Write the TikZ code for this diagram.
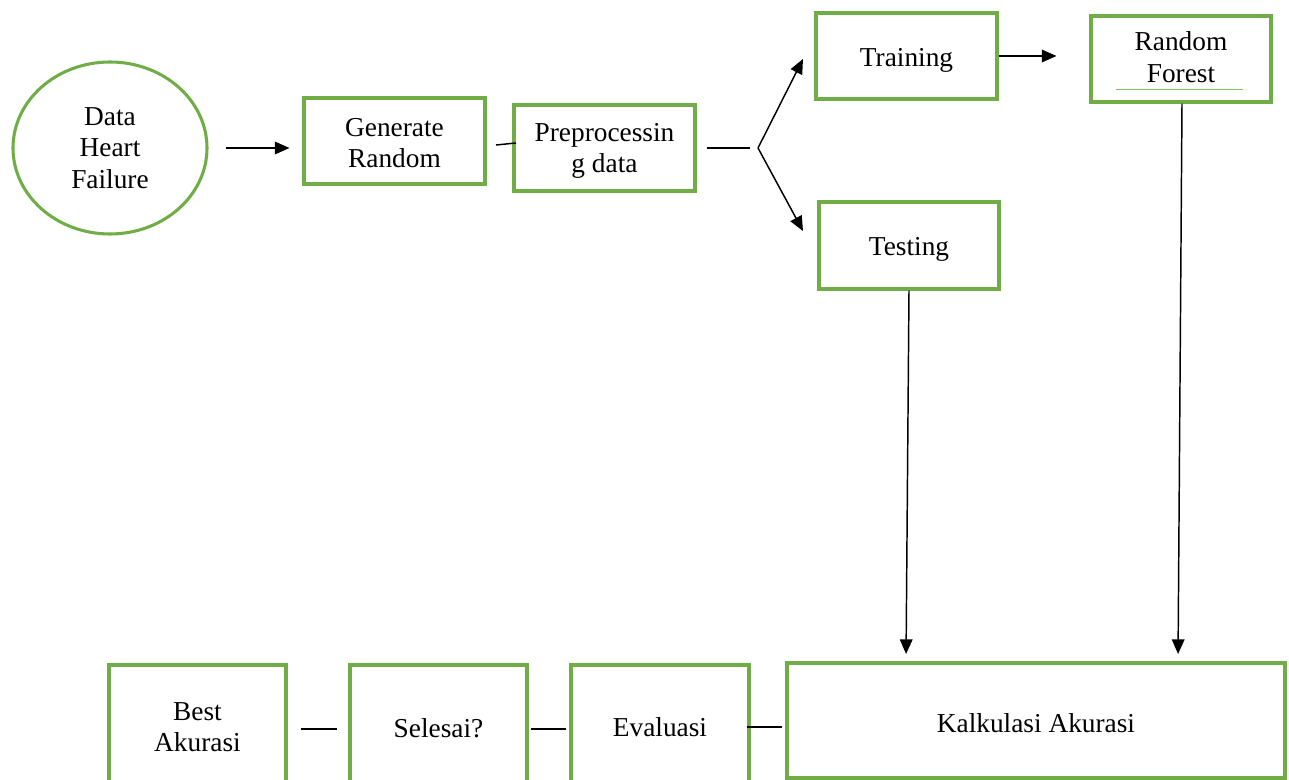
\documentclass[tikz,border=0pt]{standalone}
\usepackage{fontspec}
\setmainfont{Liberation Serif}
\usetikzlibrary{shapes.geometric,arrows.meta}
\definecolor{boxgreen}{RGB}{112,173,71}
\definecolor{lightgreen}{RGB}{130,195,95}
\newcommand\pxu{0.75pt}
\newdimen\pxd \pxd=0.75pt
\newcommand\dn[2]{\raisebox{-#1\pxd}[\height][\depth]{#2}}
\begin{document}
\begin{tikzpicture}[x=0.75pt,y=-0.75pt,
  every node/.style={font=\fontsize{20.5}{23.5}\selectfont, align=center, inner sep=0pt},
  gbox/.style={draw=boxgreen, line width=2.3pt, rectangle},
  gell/.style={draw=boxgreen, line width=2.3pt, ellipse},
  conn/.style={draw=black, line width=1.1pt},
  arr/.style={conn, -{Triangle[length=11pt,width=9.5pt]}}]
\clip (0,0) rectangle (1289,780);
\fill[white] (0,0) rectangle (1289,780);

% nodes
\node[gell, minimum width=194*\pxu, minimum height=172*\pxu] (dhf) at (110,148) {Data\\Heart\\Failure};
\node[gbox, minimum width=181*\pxu, minimum height=86*\pxu] (gen) at (394.5,141) {\dn{2}{Generate}\\\dn{2}{Random}};
\node[gbox, minimum width=181*\pxu, minimum height=86*\pxu] (pre) at (604.5,148) {\dn{3}{Preprocessin}\\\dn{3}{g data}};
\node[gbox, minimum width=181*\pxu, minimum height=86*\pxu] (tr) at (906.5,56) {\dn{4}{Training}};
\node[gbox, minimum width=180*\pxu, minimum height=86*\pxu] (rf) at (1181,59) {\dn{-2}{Random}\\\dn{-2}{Forest}};
\node[gbox, minimum width=180*\pxu, minimum height=87*\pxu] (te) at (909,245.5) {\dn{4}{Testing}};
\node[gbox, minimum width=498*\pxu, minimum height=115*\pxu] (kal) at (1036,720.5) {\dn{3}{Kalkulasi Akurasi}};
\node[gbox, minimum width=177*\pxu, minimum height=124*\pxu] (bes) at (197.5,727) {Best\\Akurasi};
\node[gbox, minimum width=177*\pxu, minimum height=124*\pxu] (sel) at (438.5,727) {\dn{1}{Selesai?}};
\node[gbox, minimum width=178*\pxu, minimum height=124*\pxu] (eva) at (660,727) {Evaluasi};

% thin line inside Random Forest
\draw[lightgreen, line width=1pt] (1116,89.5) -- (1243,89.5);

% coordinates
\coordinate (br) at (758,148);
\coordinate (gp1) at (496,145);
\coordinate (gp2) at (516,143);
\coordinate (trtip) at (803,59);
\coordinate (tetip) at (803,231);
\coordinate (kt1) at (906,662);
\coordinate (kt2) at (1178,662);

% connectors
\draw[arr, shorten <=17*\pxu, shorten >=13*\pxu] (dhf.east) -- (dhf.east -| gen.west);
\draw[conn] (gp1) -- (gp2);
\draw[conn, shorten <=10*\pxu, shorten >=8*\pxu] (pre.east |- br) -- (br);
\draw[arr] (br) -- (trtip);
\draw[arr] (br) -- (tetip);
\draw[arr, shorten >=33*\pxu] (tr.east) -- (tr.east -| rf.west);
\draw[arr, shorten >=8*\pxu] (te.south) -- (kt1);
\draw[arr, shorten >=8*\pxu] ([xshift=1*\pxu]rf.south) -- (kt2);
\draw[conn, shorten <=13*\pxu, shorten >=11*\pxu] ([yshift=-2*\pxu]bes.east) -- ([yshift=-2*\pxu]sel.west);
\draw[conn, shorten <=2*\pxu, shorten >=3*\pxu] ([yshift=-2*\pxu]sel.east) -- ([yshift=-2*\pxu]eva.west);
\draw[conn, shorten <=-4*\pxu, shorten >=3*\pxu] (eva.east) -- (eva.east -| kal.west);
\end{tikzpicture}
\end{document}
